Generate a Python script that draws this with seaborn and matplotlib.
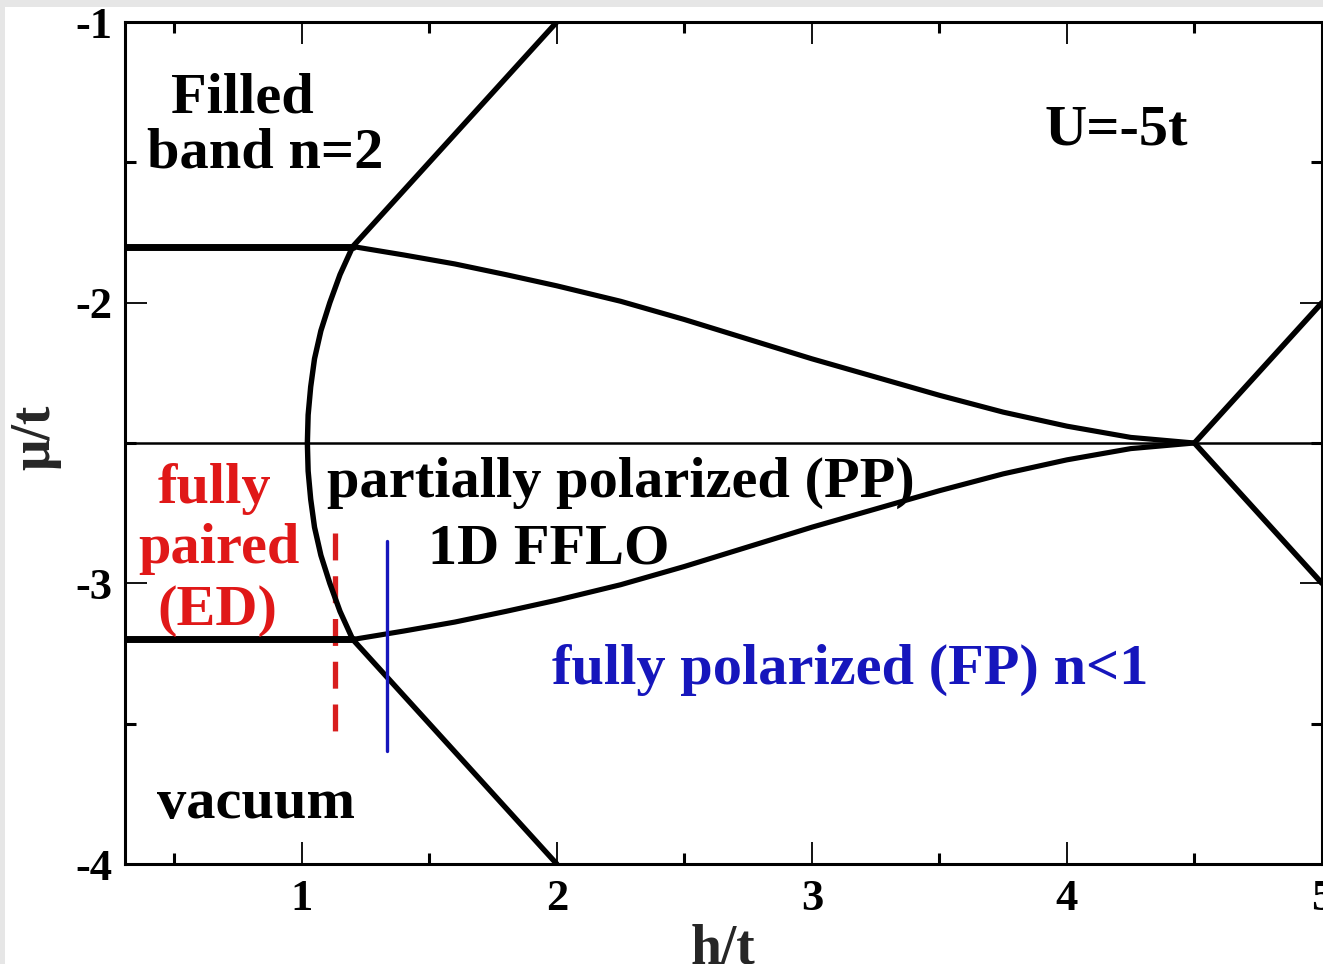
import matplotlib
matplotlib.use("Agg")
import matplotlib.pyplot as plt
import seaborn as sns
import pandas as pd
from matplotlib.patches import Rectangle
from matplotlib.ticker import MultipleLocator

# ---------------- data ----------------
# boundary of the fully paired (ED) region: h/t as function of mu/t
ed_h = [2.0, 1.6, 1.2, 1.15, 1.11, 1.075, 1.05, 1.035, 1.025, 1.022,
        1.025, 1.035, 1.05, 1.075, 1.11, 1.15, 1.2, 1.6, 2.0]
ed_mu = [-1.0, -1.4, -1.8, -1.9, -2.0, -2.1, -2.2, -2.3, -2.4, -2.5,
         -2.6, -2.7, -2.8, -2.9, -3.0, -3.1, -3.2, -3.6, -4.0]

# filled band edge (horizontal) and vacuum edge (horizontal)
flat_h = [0.3, 1.2]
filled_mu = [-1.8, -1.8]
vacuum_mu = [-3.2, -3.2]

# upper / lower boundaries of the partially polarized (FFLO) region
pp_h = [1.2, 1.4, 1.6, 1.8, 2.0, 2.25, 2.5, 2.75, 3.0, 3.25, 3.5, 3.75, 4.0, 4.25, 4.5]
pp_upper_mu = [-1.8, -1.83, -1.862, -1.90, -1.94, -1.995, -2.06, -2.13, -2.2,
               -2.265, -2.33, -2.39, -2.44, -2.48, -2.5]
pp_lower_mu = [-3.2, -3.17, -3.138, -3.10, -3.06, -3.005, -2.94, -2.87, -2.8,
               -2.735, -2.67, -2.61, -2.56, -2.52, -2.5]

# lines leaving the point (4.5, -2.5)
right_h = [4.5, 5.0]
right_up_mu = [-2.5, -2.0]
right_down_mu = [-2.5, -3.0]

# half-filling line
half_h = [0.3, 5.0]
half_mu = [-2.5, -2.5]

# vertical markers
red_h = [1.13, 1.13]
red_mu = [-2.82, -3.533]
blue_h = [1.334, 1.334]
blue_mu = [-2.848, -3.597]

x_ticks = [1, 2, 3, 4, 5]
x_tick_labels = ["1", "2", "3", "4", "5"]
y_ticks = [-4, -3, -2, -1]
y_tick_labels = ["-4", "-3", "-2", "-1"]

labels = ["Filled", "band n=2", "U=-5t", "fully", "paired", "(ED)",
          "partially polarized (PP)", "1D FFLO", "fully polarized (FP) n<1", "vacuum"]
label_h = [0.766, 0.856, 4.192, 0.656, 0.675, 0.671, 2.252, 1.967, 3.150, 0.820]
label_mu = [-1.321, -1.517, -1.438, -2.714, -2.928, -3.148, -2.692, -2.928, -3.359, -3.836]
label_kind = ["k", "k", "k", "r", "r", "r", "k", "k", "b", "k"]

# ---------------- style ----------------
sns.set_theme(style="ticks")
plt.rcParams["font.family"] = ["Liberation Serif", "DejaVu Serif"]
plt.rcParams["font.weight"] = "bold"
plt.rcParams["axes.labelweight"] = "bold"
plt.rcParams["axes.unicode_minus"] = False

RED = "#d81e1e"
BLUE = "#1616bc"
colors = {"k": "black", "r": "#e01818", "b": BLUE}

fig = plt.figure(figsize=(13.23, 9.64), dpi=100, facecolor="#e6e6e6")
fig.patches.append(Rectangle((5 / 1323, 0), 1, 957 / 964, transform=fig.transFigure,
                             facecolor="white", edgecolor="none", zorder=-10))
ax = fig.add_axes([125 / 1323, 100 / 964, 1197 / 1323, 842 / 964])
ax.set_facecolor("white")


def draw(h, mu, **kw):
    df = pd.DataFrame({"h": h, "mu": mu})
    sns.lineplot(data=df, x="h", y="mu", ax=ax, sort=False, estimator=None, **kw)
    return ax.lines[-1]


# red dashed marker (below black lines)
ln = draw(red_h, red_mu, color=RED, lw=3.8, zorder=1)
ln.set_dashes((5.1, 3.0))

draw(half_h, half_mu, color="black", lw=1.8, zorder=2)
draw(flat_h, filled_mu, color="black", lw=5.0, zorder=3)
draw(flat_h, vacuum_mu, color="black", lw=5.0, zorder=3)
draw(ed_h, ed_mu, color="black", lw=3.9, zorder=3)
draw(pp_h, pp_upper_mu, color="black", lw=3.7, zorder=3)
draw(pp_h, pp_lower_mu, color="black", lw=3.7, zorder=3)
draw(right_h, right_up_mu, color="black", lw=4.0, zorder=3)
draw(right_h, right_down_mu, color="black", lw=4.0, zorder=3)
draw(blue_h, blue_mu, color=BLUE, lw=2.4, zorder=4)

for txt, hx, my, kind in zip(labels, label_h, label_mu, label_kind):
    ax.text(hx, my, txt, ha="center", va="baseline", fontsize=42,
            fontweight="bold", color=colors[kind], zorder=5)

ax.set_xlim(0.307, 5.0)
ax.set_ylim(-4, -1)
ax.set_xticks(x_ticks, x_tick_labels)
ax.set_yticks(y_ticks, y_tick_labels)
ax.xaxis.set_minor_locator(MultipleLocator(0.5))
ax.yaxis.set_minor_locator(MultipleLocator(0.5))
ax.tick_params(which="both", direction="in", top=True, right=True, colors="black")
ax.tick_params(which="major", length=16, width=1.3, labelsize=32)
ax.tick_params(which="minor", length=8, width=2.2)
ax.tick_params(axis="x", which="major", pad=11)
ax.tick_params(axis="y", which="major", pad=9)
for s in ax.spines.values():
    s.set_linewidth(2.2)
    s.set_color("black")

ax.set_xlabel("h/t", fontsize=40, fontweight="bold")
ax.set_ylabel("μ/t", fontsize=40, fontweight="bold")
ax.xaxis.set_label_coords(0.5, -0.071)
ax.yaxis.set_label_coords(-0.053, 0.507)

fig.savefig("out.png", dpi=100, facecolor=fig.get_facecolor())
